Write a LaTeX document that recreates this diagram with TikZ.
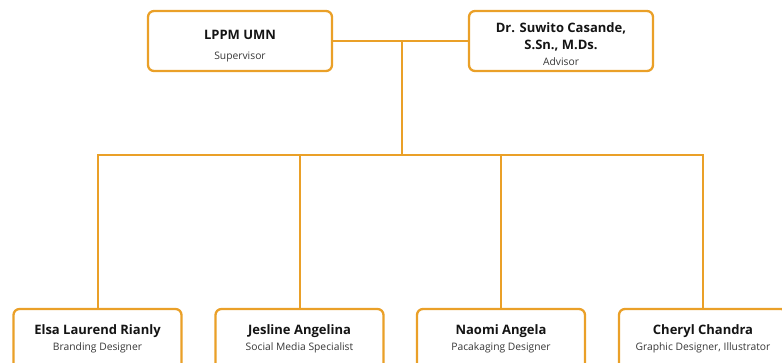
\documentclass[tikz,border=0pt]{standalone}
\usepackage{fontspec}
\setmainfont{Open Sans}
\definecolor{orgline}{RGB}{234,160,40}
\definecolor{nametext}{RGB}{20,20,20}
\definecolor{roletext}{RGB}{55,55,55}
\begin{document}
\begin{tikzpicture}[x=1pt,y=-1pt,
  box/.style={draw=orgline, line width=2.3pt, rounded corners=6pt, fill=white,
    minimum width=184pt, minimum height=60pt, align=center, inner sep=0pt,
    font=\fontsize{13}{17}\selectfont},
  lowbox/.style={box, minimum width=168pt},
  conn/.style={draw=orgline, line width=2pt},
]
\newcommand{\nameline}[1]{{\bfseries\color{nametext}#1}}
\newcommand{\roleline}[1]{{\fontsize{10.3}{12}\selectfont\color{roletext}#1}}
\useasboundingbox (0,0) rectangle (782,363);
\clip (0,0) rectangle (782,363);
\coordinate (j) at (402,41);
\coordinate (bus) at (402,155);
\draw[conn] (j) -- (bus);
\node[box] (sup) at (240,41) {\rule{0pt}{19.3pt}\nameline{LPPM UMN}\\[3pt]\roleline{Supervisor}};
\node[box] (adv) at (561,41) {\rule{0pt}{15.5pt}\nameline{Dr. Suwito Casande,}\\\nameline{S.Sn., M.Ds.}\\[-1pt]\roleline{Advisor}};
\draw[conn] (sup.east) -- (adv.west);
\node[lowbox] (e1) at (97.5,339) {\nameline{Elsa Laurend Rianly}\\[-1pt]\roleline{Branding Designer}\rule[-2.5pt]{0pt}{0pt}};
\node[lowbox] (e2) at (299.5,339) {\nameline{Jesline Angelina}\\[-1pt]\roleline{Social Media Specialist}\rule[-2.5pt]{0pt}{0pt}};
\node[lowbox] (e3) at (501,339) {\nameline{Naomi Angela}\\[-1pt]\roleline{Pacakaging Designer}\rule[-2.5pt]{0pt}{0pt}};
\node[lowbox] (e4) at (703,339) {\nameline{Cheryl Chandra}\\[-1pt]\roleline{Graphic Designer, Illustrator}\rule[-2.5pt]{0pt}{0pt}};
\draw[conn] (e1.north) -- (e1.north |- bus) -- (e4.north |- bus) -- (e4.north);
\draw[conn] (e2.north) -- (e2.north |- bus);
\draw[conn] (e3.north) -- (e3.north |- bus);
\end{tikzpicture}
\end{document}
